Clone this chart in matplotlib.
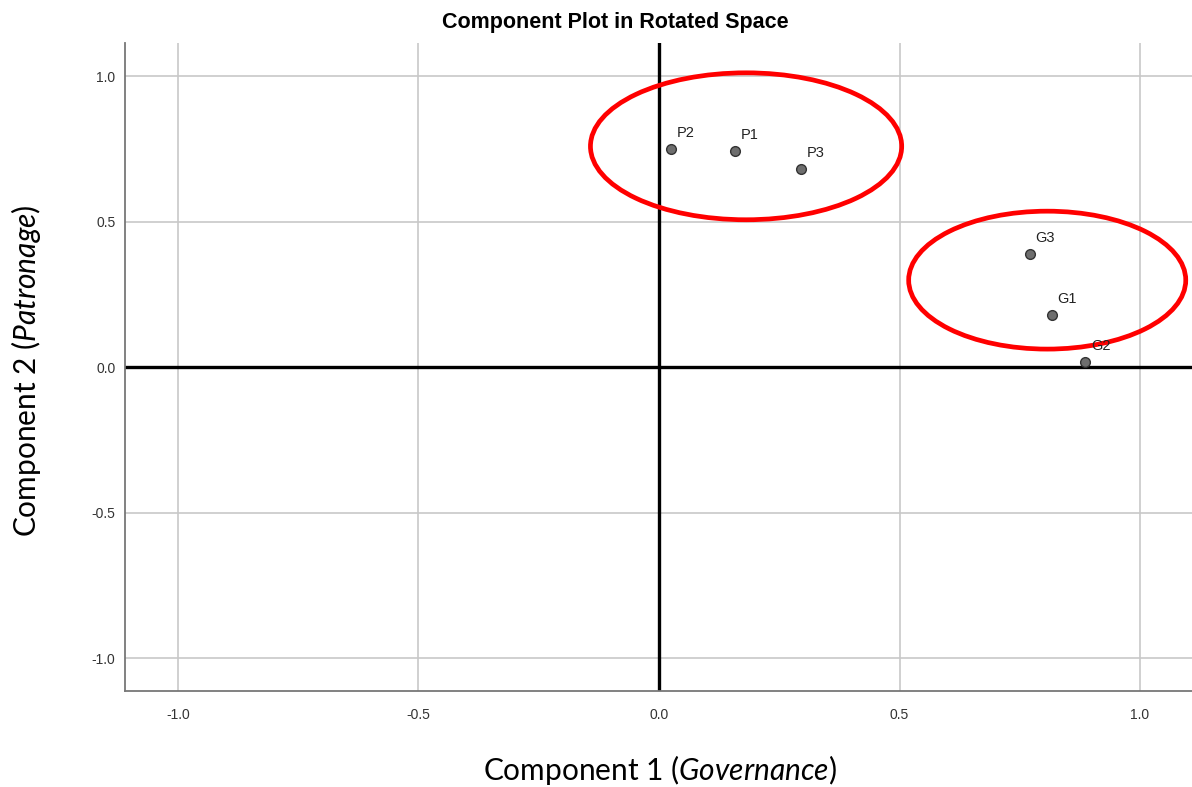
import matplotlib.pyplot as plt
from matplotlib.patches import Ellipse

plt.rcParams["mathtext.fontset"] = "custom"
plt.rcParams["mathtext.rm"] = "Lato"
plt.rcParams["mathtext.it"] = "Lato:italic"

# component loadings (rotated)
labels = ["P2", "P1", "P3", "G3", "G1", "G2"]
comp1 = [0.025, 0.158, 0.295, 0.771, 0.817, 0.886]
comp2 = [0.749, 0.742, 0.680, 0.388, 0.179, 0.017]

ticks = [-1.0, -0.5, 0.0, 0.5, 1.0]
tick_labels = ["-1.0", "-0.5", "0.0", "0.5", "1.0"]

# highlighted groups: centre x, centre y, width, height
groups_cx = [0.181, 0.807]
groups_cy = [0.759, 0.299]
groups_w = [0.647, 0.576]
groups_h = [0.505, 0.474]

fig = plt.figure(figsize=(11.92, 7.87), dpi=100)
ax = fig.add_axes([0.1049, 0.122, 0.8951, 0.823])

ax.set_xlim(-1.110, 1.108)
ax.set_ylim(-1.113, 1.113)
ax.set_xticks(ticks)
ax.set_yticks(ticks)
ax.set_xticklabels(tick_labels, family="Liberation Sans", fontsize=10, color="#333333")
ax.set_yticklabels(tick_labels, family="Liberation Sans", fontsize=10, color="#333333")
ax.tick_params(axis="x", length=0, pad=12)
ax.tick_params(axis="y", length=0, pad=7)
ax.grid(True, color="#c8c8c8", linewidth=1.2)
ax.set_axisbelow(True)

for side in ["top", "right"]:
    ax.spines[side].set_visible(False)
for side in ["left", "bottom"]:
    ax.spines[side].set_color("#777777")
    ax.spines[side].set_linewidth(1.3)

ax.axhline(0, color="black", linewidth=2.4, zorder=2)
ax.axvline(0, color="black", linewidth=2.4, zorder=2)

ax.plot(comp1, comp2, "o", markersize=7, markerfacecolor="#6e6e6e",
        markeredgecolor="#333333", markeredgewidth=1.0, zorder=4)
for lab, x, y in zip(labels, comp1, comp2):
    ax.annotate(lab, (x, y), xytext=(4, 9), textcoords="offset points",
                family="Liberation Sans", fontsize=10.5, color="#222222", zorder=7)

for cx, cy, w, h in zip(groups_cx, groups_cy, groups_w, groups_h):
    ax.add_patch(Ellipse((cx, cy), w, h, fill=False, edgecolor="#ff0000",
                         linewidth=3.4, zorder=6, clip_on=False))

fig.text(0.516, 0.971, "Component Plot in Rotated Space", ha="center", va="center",
         family="Liberation Sans", fontsize=15.5, fontweight="bold")
fig.text(0.554, 0.021, "Component 1 ($\\it{Governance}$)", ha="center", va="center",
         family="Lato", fontsize=21.5)
fig.text(0.022, 0.529, "Component 2 ($\\it{Patronage}$)", ha="center", va="center",
         rotation=90, family="Lato", fontsize=21.5)

fig.savefig("out.png", dpi=100)
